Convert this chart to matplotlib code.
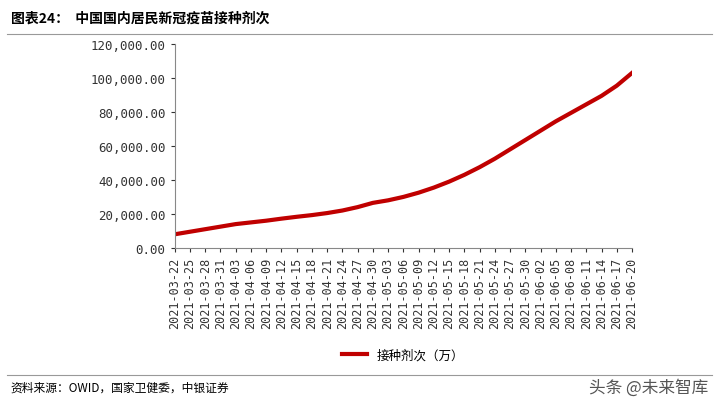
import matplotlib
matplotlib.use("Agg")
import matplotlib.pyplot as plt
import numpy as np
import pandas as pd

plt.rcParams['font.family'] = ['Noto Sans CJK SC', 'DejaVu Sans']

dates = pd.date_range("2021-03-22", "2021-06-20", freq="3D")
values = [8000, 9500, 11000, 12500, 14000, 15000, 16000, 17200, 18300, 19300,
          20500, 22000, 24000, 26500, 28000, 30000, 32500, 35500, 39000, 43000,
          47500, 52500, 58000, 63500, 69000, 74500, 79500, 84500, 89500, 95500, 103000]
tick_labels = [d.strftime("%Y-%m-%d") for d in dates]

fig = plt.figure(figsize=(7.19, 4.06), dpi=100)
ax = fig.add_axes([0.243, 0.387, 0.636, 0.502])
x = np.arange(len(values))
ax.plot(x, values, color="#C00000", lw=3, label="接种剂次（万）")
ax.set_xlim(0, len(values) - 1)
ax.set_ylim(0, 120000)
ax.set_yticks(np.arange(0, 120001, 20000))
ax.set_yticklabels([f"{v:,.2f}" for v in range(0, 120001, 20000)], fontsize=9, family='DejaVu Sans Mono')
ax.set_xticks(x)
ax.set_xticklabels(tick_labels, rotation=90, fontsize=8.5, family='DejaVu Sans Mono')
for s in ['top', 'right']:
    ax.spines[s].set_visible(False)
ax.spines['left'].set_color('#888888')
ax.spines['bottom'].set_color('#888888')
ax.tick_params(length=3, colors='#333333')
ax.legend(loc='upper center', bbox_to_anchor=(0.5, -0.44), frameon=False, fontsize=9)

fig.text(0.015, 0.955, "图表24：  中国国内居民新冠疫苗接种剂次", fontsize=10, fontweight='bold', va='center')
fig.add_artist(plt.Line2D([0.01, 0.99], [0.915, 0.915], color='#999999', lw=0.8))
fig.add_artist(plt.Line2D([0.01, 0.99], [0.075, 0.075], color='#999999', lw=0.8))
fig.text(0.015, 0.045, "资料来源：OWID，国家卫健委，中银证券", fontsize=8.5, style='italic', va='center')
fig.text(0.985, 0.045, "头条 @未来智库", fontsize=12, color='#555555', ha='right', va='center')
fig.savefig("out.png", dpi=100)
